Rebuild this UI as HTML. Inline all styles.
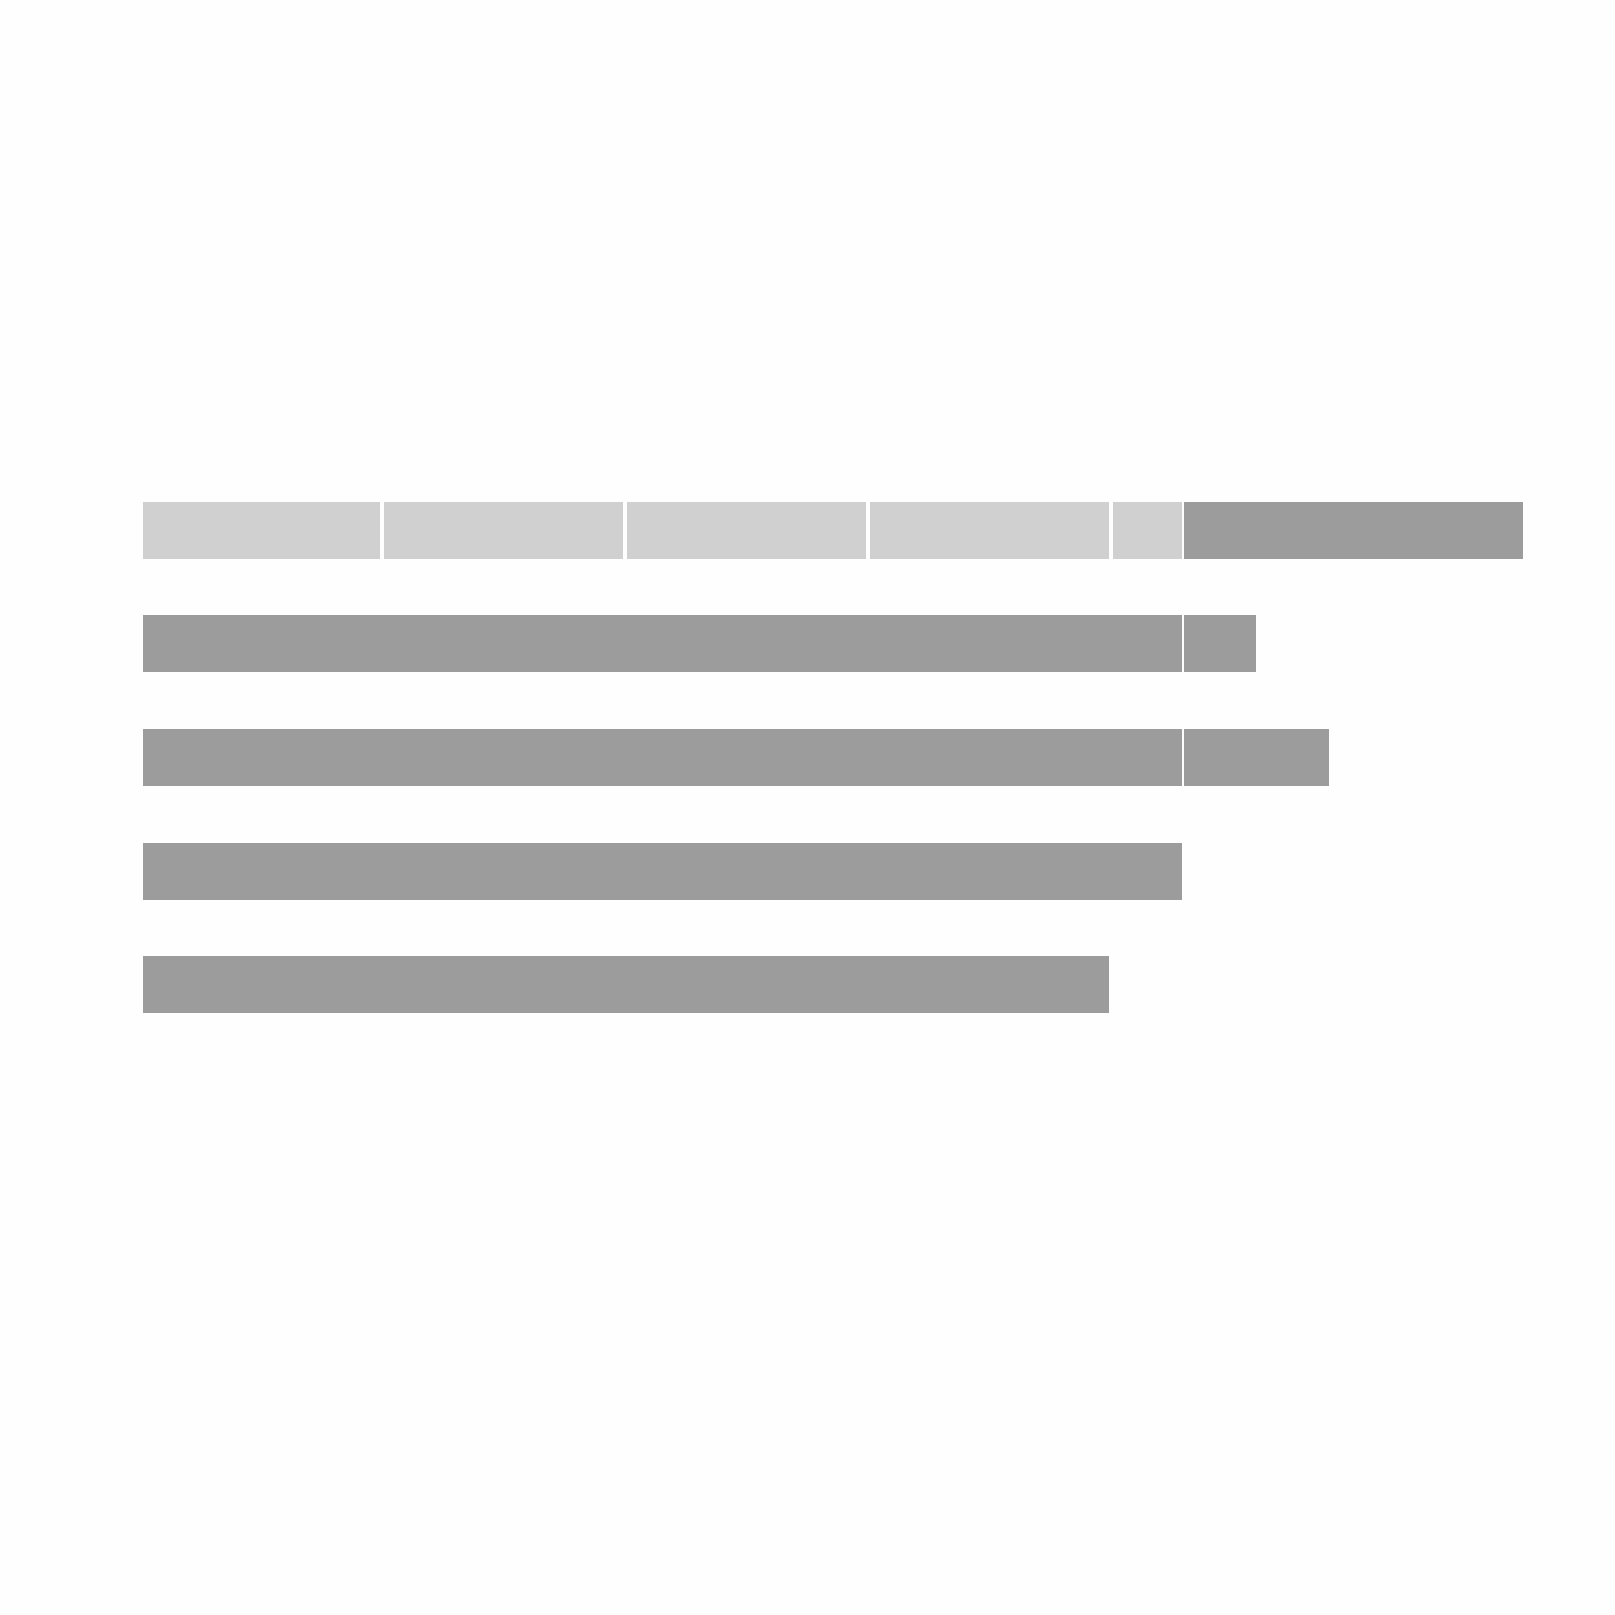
<!DOCTYPE html>
<html><head><meta charset="utf-8"><style>
html,body{margin:0;padding:0;background:#fefefe;}
body{width:1615px;height:1615px;position:relative;overflow:hidden;}
.b{position:absolute;}
.l{background:#d0d0d0;}
.d{background:#9c9c9c;}
.w{background:#f4f4f4;}
</style></head><body>
<!-- row 1 -->
<div class="b l" style="left:143px;top:502px;width:237px;height:57px"></div>
<div class="b l" style="left:384px;top:502px;width:239px;height:57px"></div>
<div class="b l" style="left:627px;top:502px;width:239px;height:57px"></div>
<div class="b l" style="left:870px;top:502px;width:239px;height:57px"></div>
<div class="b l" style="left:1113px;top:502px;width:69px;height:57px"></div>
<div class="b d" style="left:1184px;top:502px;width:339px;height:57px"></div>
<!-- row 2 -->
<div class="b d" style="left:143px;top:615px;width:1039px;height:57px"></div>
<div class="b d" style="left:1184px;top:615px;width:72px;height:57px"></div>
<!-- row 3 -->
<div class="b d" style="left:143px;top:729px;width:1039px;height:57px"></div>
<div class="b d" style="left:1184px;top:729px;width:145px;height:57px"></div>
<!-- row 4 -->
<div class="b d" style="left:143px;top:843px;width:1039px;height:57px"></div>
<!-- row 5 -->
<div class="b d" style="left:143px;top:956px;width:966px;height:57px"></div>
</body></html>
